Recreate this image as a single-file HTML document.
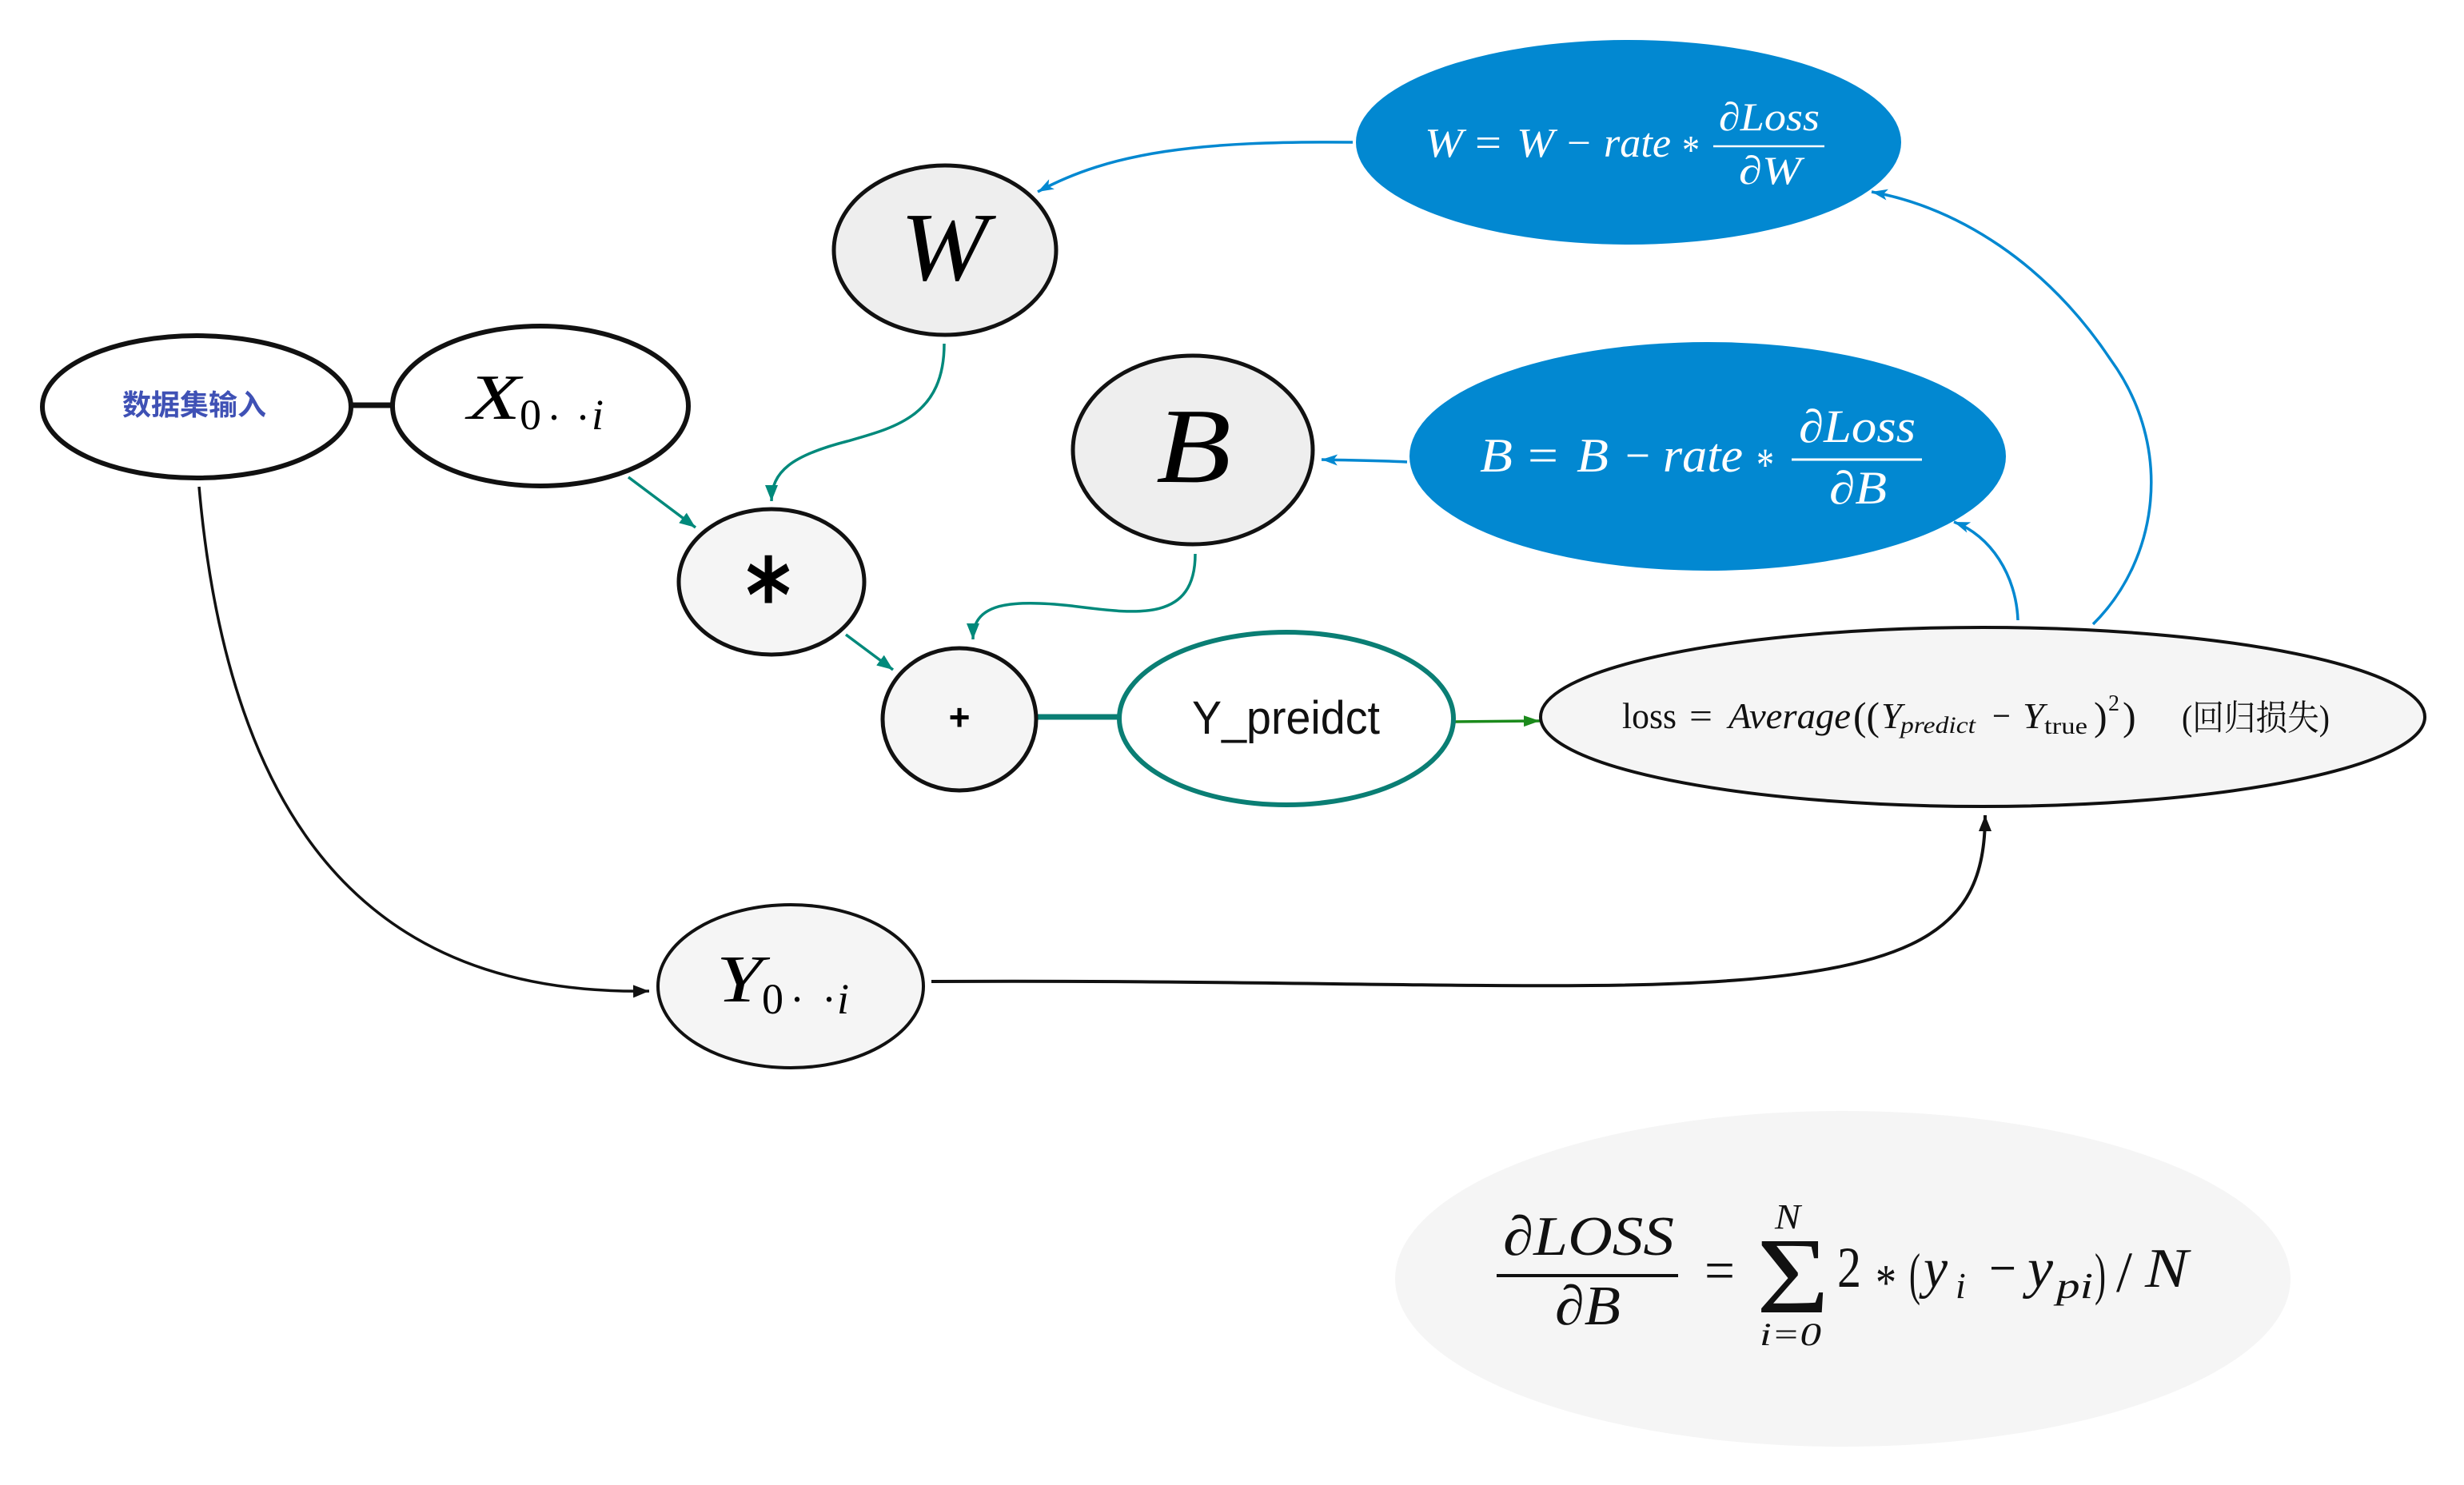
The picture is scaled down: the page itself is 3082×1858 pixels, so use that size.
<!DOCTYPE html>
<html><head><meta charset="utf-8"><style>
html,body{margin:0;padding:0;background:#fff;}
svg{display:block;}
.m{font-family:"Liberation Serif",serif;}
.i{font-style:italic;}
.cjk{font-family:"Liberation Serif","Noto Serif CJK SC","Noto Sans CJK SC",serif;}
</style></head><body>
<svg width="3082" height="1858" viewBox="0 0 3082 1858" xmlns="http://www.w3.org/2000/svg">
<defs>
<marker id="at" markerUnits="userSpaceOnUse" markerWidth="24" markerHeight="20" refX="20" refY="10" orient="auto"><path d="M0,2 L20,10 L0,18 Z" fill="#00897B"/></marker>
<marker id="ab" markerUnits="userSpaceOnUse" markerWidth="24" markerHeight="20" refX="20" refY="10" orient="auto"><path d="M0,3 L20,10 L0,17 L5,10 Z" fill="#0288D1"/></marker>
<marker id="ak" markerUnits="userSpaceOnUse" markerWidth="24" markerHeight="20" refX="20" refY="10" orient="auto"><path d="M0,2 L20,10 L0,18 Z" fill="#111"/></marker>
<marker id="ag" markerUnits="userSpaceOnUse" markerWidth="24" markerHeight="20" refX="20" refY="10" orient="auto"><path d="M0,3 L20,10 L0,17 Z" fill="#1B8A1B"/></marker>
</defs>

<!-- bottom formula ellipse -->
<ellipse cx="2305" cy="1600" rx="560" ry="210" fill="#f5f5f5"/>

<!-- connectors -->
<line x1="437" y1="507" x2="494" y2="507" stroke="#111" stroke-width="7"/>
<path d="M249,609 C292,1100 520,1245 812,1240" fill="none" stroke="#111" stroke-width="3.5" marker-end="url(#ak)"/>
<path d="M1165,1228 C1500,1226 1800,1235 1990,1233 C2400,1230 2483,1170 2483,1020" fill="none" stroke="#111" stroke-width="4" marker-end="url(#ak)"/>
<line x1="786" y1="597" x2="870" y2="660" stroke="#00897B" stroke-width="3.5" marker-end="url(#at)"/>
<line x1="1058" y1="794" x2="1117" y2="838" stroke="#00897B" stroke-width="3.5" marker-end="url(#at)"/>
<path d="M1181,430 C1181,520 1120,535 1060,552 C990,570 965,590 965,627" fill="none" stroke="#00897B" stroke-width="3.5" marker-end="url(#at)"/>
<path d="M1495,693 C1495,780 1420,768 1340,758 C1250,748 1217,760 1217,800" fill="none" stroke="#00897B" stroke-width="3.5" marker-end="url(#at)"/>
<line x1="1295" y1="897" x2="1404" y2="897" stroke="#0A7E74" stroke-width="7"/>
<line x1="1818" y1="903" x2="1926" y2="902" stroke="#1B8A1B" stroke-width="3.5" marker-end="url(#ag)"/>
<path d="M1692,178 C1500,176 1390,190 1298,240" fill="none" stroke="#0288D1" stroke-width="3.5" marker-end="url(#ab)"/>
<path d="M1760,578 C1720,576 1690,576 1653,575" fill="none" stroke="#0288D1" stroke-width="3.5" marker-end="url(#ab)"/>
<path d="M2524,776 C2522,720 2490,670 2444,653" fill="none" stroke="#0288D1" stroke-width="3.5" marker-end="url(#ab)"/>
<path d="M2618,781 C2700,700 2720,560 2640,450 C2560,330 2450,260 2341,240" fill="none" stroke="#0288D1" stroke-width="3.5" marker-end="url(#ab)"/>

<!-- nodes -->
<ellipse cx="246" cy="509" rx="193" ry="89" fill="#fff" stroke="#111" stroke-width="6"/>
<text x="243" y="519" text-anchor="middle" font-family="'Liberation Sans','Noto Sans CJK SC',sans-serif" font-weight="bold" font-size="36" fill="#3F51B5">数据集输入</text>

<ellipse cx="676" cy="508" rx="185" ry="100" fill="#fff" stroke="#111" stroke-width="6"/>
<text class="m i" x="585" y="524" font-size="80" textLength="66" lengthAdjust="spacingAndGlyphs">X</text>
<text class="m" x="650" y="537" font-size="54">0</text>
<text class="m" x="684" y="540" font-size="54">·</text>
<text class="m" x="720" y="540" font-size="54">·</text>
<text class="m i" x="740" y="537" font-size="54">i</text>

<ellipse cx="1182" cy="313" rx="139" ry="106" fill="#eeeeee" stroke="#111" stroke-width="5"/>
<text class="m i" x="1181" y="350" text-anchor="middle" font-size="122" textLength="110" lengthAdjust="spacingAndGlyphs">W</text>

<ellipse cx="1492" cy="563" rx="150" ry="118" fill="#eeeeee" stroke="#111" stroke-width="5"/>
<text class="m i" x="1493" y="603" text-anchor="middle" font-size="134" textLength="94" lengthAdjust="spacingAndGlyphs">B</text>

<ellipse cx="965" cy="728" rx="116" ry="91" fill="#f5f5f5" stroke="#111" stroke-width="5"/>
<text x="0" y="790" text-anchor="middle" transform="translate(961,0) scale(0.85,1)" font-family="'DejaVu Sans',sans-serif" font-weight="bold" font-size="128">*</text>

<ellipse cx="1200" cy="900" rx="96" ry="89" fill="#f5f5f5" stroke="#111" stroke-width="5"/>
<text x="1200" y="913" text-anchor="middle" font-family="'Liberation Sans',sans-serif" font-weight="bold" font-size="46">+</text>

<ellipse cx="1609" cy="899" rx="209" ry="108" fill="#fff" stroke="#0A7E74" stroke-width="6"/>
<text x="1491" y="918" font-family="'Liberation Sans',sans-serif" font-size="58" textLength="235" lengthAdjust="spacingAndGlyphs" fill="#111">Y_preidct</text>

<ellipse cx="989" cy="1234" rx="166" ry="102" fill="#f5f5f5" stroke="#111" stroke-width="4"/>
<text class="m i" x="896" y="1253" font-size="84" textLength="58" lengthAdjust="spacingAndGlyphs">Y</text>
<text class="m" x="953" y="1268" font-size="54">0</text>
<text class="m" x="988" y="1268" font-size="54">·</text>
<text class="m" x="1028" y="1268" font-size="54">·</text>
<text class="m i" x="1047" y="1268" font-size="54">i</text>

<!-- loss ellipse -->
<ellipse cx="2480" cy="897" rx="553" ry="112" fill="#f5f5f5" stroke="#111" stroke-width="4"/>
<g class="m" fill="#111">
<text x="2029" y="911" font-size="46" textLength="68" lengthAdjust="spacingAndGlyphs">loss</text>
<text x="2113" y="911" font-size="46" textLength="29" lengthAdjust="spacingAndGlyphs">=</text>
<text class="i" x="2162" y="911" font-size="46" textLength="153" lengthAdjust="spacingAndGlyphs">Average</text>
<text x="2318" y="913" font-size="50" textLength="33" lengthAdjust="spacingAndGlyphs">((</text>
<text class="i" x="2353" y="911" font-size="46" textLength="26" lengthAdjust="spacingAndGlyphs">Y</text>
<text class="i" x="2377" y="917" font-size="30" textLength="94" lengthAdjust="spacingAndGlyphs">predict</text>
<text x="2492" y="911" font-size="46" textLength="23" lengthAdjust="spacingAndGlyphs">−</text>
<text class="i" x="2530" y="911" font-size="46" textLength="27" lengthAdjust="spacingAndGlyphs">Y</text>
<text x="2557" y="918" font-size="30" textLength="54" lengthAdjust="spacingAndGlyphs">true</text>
<text x="2619" y="913" font-size="50">)</text>
<text x="2637" y="889" font-size="28">2</text>
<text x="2655" y="913" font-size="50">)</text>
</g>
<text class="cjk" x="2729" y="913" font-size="44" textLength="185" lengthAdjust="spacingAndGlyphs" fill="#111">(回归损失)</text>

<!-- W update -->
<ellipse cx="2037" cy="178" rx="341" ry="128" fill="#0288D1"/>
<g class="m" fill="#fff">
<text class="i" x="1782" y="196" font-size="52" textLength="48" lengthAdjust="spacingAndGlyphs">W</text>
<text x="1845" y="196" font-size="52" textLength="33" lengthAdjust="spacingAndGlyphs">=</text>
<text class="i" x="1897" y="196" font-size="52" textLength="47" lengthAdjust="spacingAndGlyphs">W</text>
<text x="1960" y="196" font-size="52" textLength="30" lengthAdjust="spacingAndGlyphs">−</text>
<text class="i" x="2006" y="196" font-size="52" textLength="84" lengthAdjust="spacingAndGlyphs">rate</text>
<text x="2104" y="205" font-size="52" textLength="22" lengthAdjust="spacingAndGlyphs">*</text>
<text class="i" x="2150" y="163" font-size="50" textLength="126" lengthAdjust="spacingAndGlyphs">∂Loss</text>
<text class="i" x="2175" y="230" font-size="50" textLength="78" lengthAdjust="spacingAndGlyphs">∂W</text>
</g>
<line x1="2143" y1="183" x2="2282" y2="183" stroke="#fff" stroke-width="2.5"/>

<!-- B update -->
<ellipse cx="2136" cy="571" rx="373" ry="143" fill="#0288D1"/>
<g class="m" fill="#fff">
<text class="i" x="1851" y="590" font-size="60" textLength="41" lengthAdjust="spacingAndGlyphs">B</text>
<text x="1911" y="590" font-size="60" textLength="38" lengthAdjust="spacingAndGlyphs">=</text>
<text class="i" x="1972" y="590" font-size="60" textLength="40" lengthAdjust="spacingAndGlyphs">B</text>
<text x="2033" y="590" font-size="60" textLength="31" lengthAdjust="spacingAndGlyphs">−</text>
<text class="i" x="2080" y="590" font-size="60" textLength="100" lengthAdjust="spacingAndGlyphs">rate</text>
<text x="2197" y="601" font-size="58" textLength="22" lengthAdjust="spacingAndGlyphs">*</text>
<text class="i" x="2250" y="553" font-size="58" textLength="146" lengthAdjust="spacingAndGlyphs">∂Loss</text>
<text class="i" x="2288" y="630" font-size="58" textLength="72" lengthAdjust="spacingAndGlyphs">∂B</text>
</g>
<line x1="2241" y1="575" x2="2404" y2="575" stroke="#fff" stroke-width="3"/>

<!-- bottom formula -->
<g class="m" fill="#111">
<text class="i" x="1880" y="1570" font-size="70" textLength="214" lengthAdjust="spacingAndGlyphs">∂LOSS</text>
<text class="i" x="1945" y="1657" font-size="70" textLength="82" lengthAdjust="spacingAndGlyphs">∂B</text>
<text x="2132" y="1613" font-size="70" textLength="38" lengthAdjust="spacingAndGlyphs">=</text>
<text x="2197" y="1642" font-size="136" textLength="91" lengthAdjust="spacingAndGlyphs">Σ</text>
<text class="i" x="2220" y="1537" font-size="44" textLength="32" lengthAdjust="spacingAndGlyphs">N</text>
<text class="i" x="2201" y="1683" font-size="40" textLength="77" lengthAdjust="spacingAndGlyphs">i=0</text>
<text x="2298" y="1610" font-size="72" textLength="30" lengthAdjust="spacingAndGlyphs">2</text>
<text x="2346" y="1626" font-size="64" textLength="26" lengthAdjust="spacingAndGlyphs">*</text>
<text x="2388" y="1618" font-size="72" textLength="14" lengthAdjust="spacingAndGlyphs">(</text>
<text class="i" x="2406" y="1610" font-size="70" textLength="30" lengthAdjust="spacingAndGlyphs">y</text>
<text class="i" x="2446" y="1624" font-size="46">i</text>
<text x="2488" y="1610" font-size="70" textLength="34" lengthAdjust="spacingAndGlyphs">−</text>
<text class="i" x="2536" y="1610" font-size="70" textLength="32" lengthAdjust="spacingAndGlyphs">y</text>
<text class="i" x="2572" y="1624" font-size="46" textLength="46" lengthAdjust="spacingAndGlyphs">pi</text>
<text x="2620" y="1618" font-size="72" textLength="14" lengthAdjust="spacingAndGlyphs">)</text>
<text x="2647" y="1616" font-size="72">/</text>
<text class="i" x="2683" y="1610" font-size="70" textLength="54" lengthAdjust="spacingAndGlyphs">N</text>
</g>
<line x1="1872" y1="1596" x2="2099" y2="1596" stroke="#111" stroke-width="4"/>
</svg>
</body></html>
